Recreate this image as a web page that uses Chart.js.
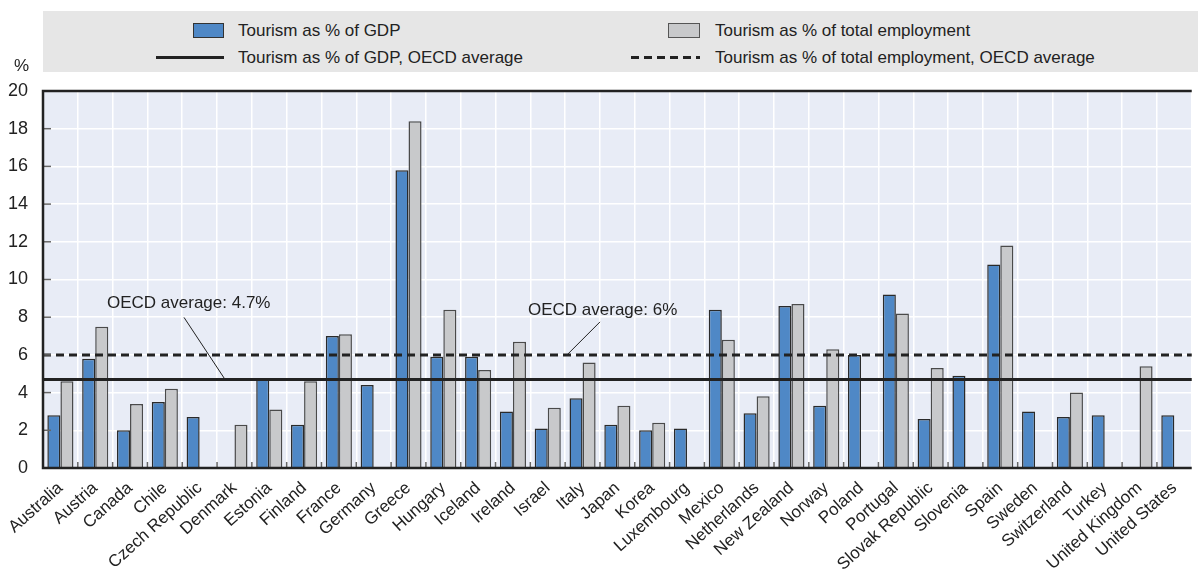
<!DOCTYPE html>
<html>
<head>
<meta charset="utf-8">
<script src="https://cdn.jsdelivr.net/npm/chart.js@4.4.1/dist/chart.umd.min.js"></script>
<style>
html, body { margin: 0; padding: 0; background: #fff; }
#wrap { position: relative; width: 1198px; height: 572px; overflow: hidden; }
#chart { position: absolute; left: 0; top: 0; }
.legendBox { position: absolute; left: 43px; top: 11px; width: 1155px; height: 61px; background: #e6e6e6; }
.key { position: absolute; font: 17px "Liberation Sans", Arial, sans-serif; color: #222;
       white-space: nowrap; line-height: 20px; }
.sw { position: absolute; box-sizing: border-box; }
</style>
</head>
<body>
<div id="wrap">
    <canvas id="chart" width="1198" height="572"></canvas>
    <div class="legendBox"></div>
    <div class="sw" style="left:193px;top:23px;width:31px;height:15px;background:#4f88c6;border:1.5px solid #333;"></div>
    <div class="key" style="left:238px;top:21px;">Tourism as % of GDP</div>
    <div class="sw" style="left:156px;top:56px;width:68px;height:3px;background:#222;"></div>
    <div class="key" style="left:238px;top:48px;">Tourism as % of GDP, OECD average</div>
    <div class="sw" style="left:668px;top:23px;width:32px;height:15px;background:#c8c9cb;border:1.5px solid #555;"></div>
    <div class="key" style="left:715px;top:21px;">Tourism as % of total employment</div>
    <div class="sw" style="left:631px;top:56px;width:69px;height:3px;background:repeating-linear-gradient(90deg,#222 0 8px,transparent 8px 13px);"></div>
    <div class="key" style="left:715px;top:48px;">Tourism as % of total employment, OECD average</div>
    <div class="key" style="left:14px;top:56px;">%</div>
</div>

<script>
"use strict";

// Data
const countries = ["Australia", "Austria", "Canada", "Chile", "Czech Republic", "Denmark", "Estonia", "Finland",
    "France", "Germany", "Greece", "Hungary", "Iceland", "Ireland", "Israel", "Italy", "Japan", "Korea",
    "Luxembourg", "Mexico", "Netherlands", "New Zealand", "Norway", "Poland", "Portugal", "Slovak Republic",
    "Slovenia", "Spain", "Sweden", "Switzerland", "Turkey", "United Kingdom", "United States"];
const gdpShare = [2.8, 5.8, 2.0, 3.5, 2.7, null, 4.7, 2.3, 7.0, 4.4, 15.8, 5.9, 5.9, 3.0, 2.1, 3.7, 2.3, 2.0,
    2.1, 8.4, 2.9, 8.6, 3.3, 6.0, 9.2, 2.6, 4.9, 10.8, 3.0, 2.7, 2.8, null, 2.8];
const employmentShare = [4.6, 7.5, 3.4, 4.2, null, 2.3, 3.1, 4.6, 7.1, null, 18.4, 8.4, 5.2, 6.7, 3.2, 5.6, 3.3, 2.4,
    null, 6.8, 3.8, 8.7, 6.3, null, 8.2, 5.3, null, 11.8, null, 4.0, null, 5.4, null];
const avgGdp = 4.7;          // OECD average, % of GDP
const avgEmployment = 6;     // OECD average, % of total employment
const yMin = 0;
const yMax = 20;
const yStep = 2;

const FONT = '"Liberation Sans", Arial, sans-serif';
Chart.defaults.font.family = FONT;
Chart.defaults.color = "#222";

// Bakgrund, medelvärdeslinjer, ram, tickmarkeringar och etiketter
const chartDecor = {
    id: "chartDecor",
    beforeDraw(chart) {
        const { ctx, chartArea: a } = chart;
        ctx.save();
        ctx.fillStyle = "#e8ecf6";
        ctx.fillRect(a.left, a.top, a.right - a.left, a.bottom - a.top);
        ctx.restore();
    },
    afterDatasetsDraw(chart) {
        const { ctx, chartArea: a } = chart;
        const y = chart.scales.y;
        const n = countries.length;
        const yG = y.getPixelForValue(avgGdp);
        const yE = y.getPixelForValue(avgEmployment);
        ctx.save();

        // OECD-medelvärden
        ctx.strokeStyle = "#222";
        ctx.lineWidth = 3;
        ctx.beginPath();
        ctx.moveTo(a.left, yG);
        ctx.lineTo(a.right, yG);
        ctx.stroke();
        ctx.setLineDash([8, 5]);
        ctx.beginPath();
        ctx.moveTo(a.left, yE);
        ctx.lineTo(a.right, yE);
        ctx.stroke();
        ctx.setLineDash([]);

        // tickmarkeringar innanför ramen
        ctx.strokeStyle = "#666";
        ctx.lineWidth = 1.5;
        y.ticks.forEach(t => {
            const py = y.getPixelForValue(t.value);
            ctx.beginPath();
            ctx.moveTo(a.left, py);
            ctx.lineTo(a.left + 8, py);
            ctx.stroke();
        });
        for (let i = 1; i < n; i++) {
            const px = a.left + i * (a.right - a.left) / n;
            ctx.beginPath();
            ctx.moveTo(px, a.bottom);
            ctx.lineTo(px, a.bottom - 6);
            ctx.stroke();
        }

        // ram
        ctx.strokeStyle = "#222";
        ctx.lineWidth = 2.5;
        ctx.beginPath();
        ctx.moveTo(a.right, a.top);
        ctx.lineTo(a.left, a.top);
        ctx.lineTo(a.left, a.bottom);
        ctx.lineTo(a.right, a.bottom);
        ctx.stroke();

        // etiketter
        ctx.font = "17px " + FONT;
        ctx.fillStyle = "#222";
        ctx.textBaseline = "alphabetic";
        ctx.fillText("OECD average: " + avgGdp + "%", a.left + 64, yG - 71);
        ctx.fillText("OECD average: " + avgEmployment + "%", a.left + 485, yE - 40);
        ctx.lineWidth = 1;
        ctx.beginPath();
        ctx.moveTo(a.left + 141, yG - 62);
        ctx.lineTo(a.left + 182, yG);
        ctx.moveTo(a.left + 557, yE - 33);
        ctx.lineTo(a.left + 524, yE);
        ctx.stroke();
        ctx.restore();
    }
};

function createChart() {
    const ctx = document.getElementById("chart").getContext("2d");
    new Chart(ctx, {
        type: "bar",
        data: {
            labels: countries,
            datasets: [{
                label: "Tourism as % of GDP",
                data: gdpShare,
                backgroundColor: "#4f88c6",
                borderColor: "#2a2a2a",
                borderWidth: 1.5,
                categoryPercentage: 0.75,
                barPercentage: 1.0
            }, {
                label: "Tourism as % of total employment",
                data: employmentShare,
                backgroundColor: "#c8c9cb",
                borderColor: "#4a4a4a",
                borderWidth: 1.5,
                categoryPercentage: 0.75,
                barPercentage: 1.0
            }]
        },
        options: {
            responsive: false,
            animation: false,
            layout: { padding: { top: 91, right: 1, left: 0, bottom: 0 } },
            scales: {
                x: {
                    offset: true,
                    grid: { color: "#ffffff", lineWidth: 1.5, offset: true, drawTicks: false },
                    border: { display: false },
                    ticks: {
                        autoSkip: false,
                        minRotation: 42,
                        maxRotation: 42,
                        padding: 10,
                        font: { size: 17 }
                    },
                    afterFit: scale => { scale.height = 104; }
                },
                y: {
                    min: yMin,
                    max: yMax,
                    ticks: { stepSize: yStep, padding: 15, font: { size: 18 } },
                    grid: { color: "#ffffff", lineWidth: 1.5, drawTicks: false },
                    border: { display: false },
                    afterFit: scale => { scale.width = 43; }
                }
            },
            plugins: {
                legend: { display: false },
                tooltip: { enabled: false }
            }
        },
        plugins: [chartDecor]
    });
}

window.onload = createChart;
</script>
</body>
</html>
